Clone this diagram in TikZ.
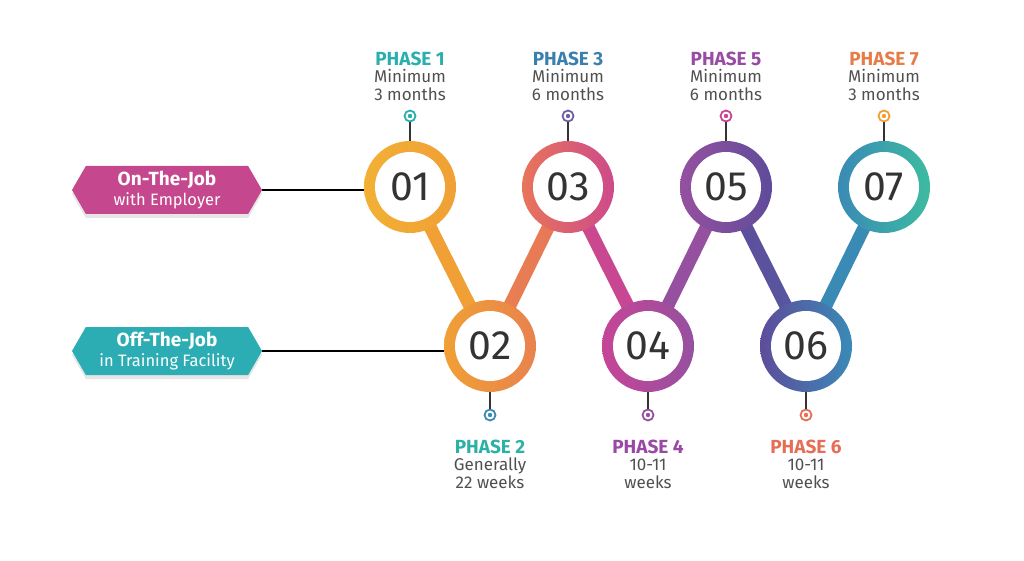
\documentclass[tikz,border=0pt]{standalone}
\usepackage{fontspec}
\setmainfont{Fira Sans}
\usetikzlibrary{positioning,calc,backgrounds,shapes.symbols,shadows}

\definecolor{gold}{HTML}{F2B035}
\definecolor{amber}{HTML}{F0A035}
\definecolor{tangerine}{HTML}{E8824E}
\definecolor{coral}{HTML}{E8755A}
\definecolor{rose}{HTML}{CD4A8B}
\definecolor{fuchsia}{HTML}{C64597}
\definecolor{plum}{HTML}{9650A0}
\definecolor{indigo}{HTML}{5E4C9A}
\definecolor{ocean}{HTML}{3A8AB6}
\definecolor{seagreen}{HTML}{3DBBA0}
\definecolor{jobpink}{HTML}{C5488F}
\definecolor{jobteal}{HTML}{2BADB3}
\definecolor{numgray}{HTML}{333333}
\definecolor{txtgray}{HTML}{505050}
\definecolor{head1}{HTML}{2AAFAE}
\definecolor{head2}{HTML}{2DB0A5}
\definecolor{head3}{HTML}{3B7FAE}
\definecolor{head4}{HTML}{9A47A6}
\definecolor{head5}{HTML}{974BA3}
\definecolor{head6}{HTML}{E66E57}
\definecolor{head7}{HTML}{E57D48}

% band between two rings, shaded left to right
\newcommand\band[4]{\shade[left color=#3,right color=#4]
  ($(#1)!6.5pt!90:(#2)$) -- ($(#2)!6.5pt!-90:(#1)$) --
  ($(#2)!6.5pt!90:(#1)$) -- ($(#1)!6.5pt!-90:(#2)$) -- cycle;}

\begin{document}
\begin{tikzpicture}[x=1pt,y=-1pt,
  ring/.style={circle,minimum size=92pt,inner sep=0pt},
  hole/.style={circle,fill=white,minimum size=70pt,inner sep=0pt,text=numgray,
    font=\fontsize{41}{41}\selectfont},
  pinball/.style={circle,draw=#1,fill=white,line width=1.8pt,minimum size=11pt,
    inner sep=0pt,path picture={\fill[#1] (path picture bounding box.center) circle (2.2pt);}},
  stem/.style={line width=2pt,draw=numgray},
  info/.style={align=center,inner sep=0pt,text=txtgray,font=\fontsize{17}{17.5}\selectfont},
  track/.style={signal,signal to=west and east,signal pointer angle=120,
    minimum width=190pt,minimum height=48pt,inner sep=0pt,text=white,align=center,
    font=\fontsize{16.5}{19.5}\selectfont,
    drop shadow={opacity=0.2,shadow xshift=0pt,shadow yshift=-4pt}}]
\useasboundingbox (0,0) rectangle (1024,561);

% rings
\node[ring,left color=gold,right color=amber] (c1) at (410,187) {};
\node[ring,left color=amber,right color=tangerine] (c2) at (490,346) {};
\node[ring,left color=coral,right color=rose] (c3) at (568,187) {};
\node[ring,left color=fuchsia,right color=plum] (c4) at (648,346) {};
\node[ring,left color=plum,right color=indigo] (c5) at (726,187) {};
\node[ring,left color=indigo,right color=ocean] (c6) at (806,346) {};
\node[ring,left color=ocean,right color=seagreen] (c7) at (884,187) {};
\node[hole] (n1) at (c1) {01};
\node[hole] (n2) at (c2) {02};
\node[hole] (n3) at (c3) {03};
\node[hole] (n4) at (c4) {04};
\node[hole] (n5) at (c5) {05};
\node[hole] (n6) at (c6) {06};
\node[hole] (n7) at (c7) {07};

\begin{scope}[on background layer]
\band{c1}{c2}{amber}{amber}
\band{c2}{c3}{tangerine}{coral}
\band{c3}{c4}{rose}{fuchsia}
\band{c4}{c5}{plum}{plum}
\band{c5}{c6}{indigo}{indigo!80!ocean}
\band{c6}{c7}{ocean}{ocean}
\end{scope}

% pins
\node[pinball=head1] (p1) at (410,116) {};
\node[pinball=indigo!90!white] (p3) at (568,116) {};
\node[pinball=fuchsia] (p5) at (726,116) {};
\node[pinball=amber] (p7) at (884,116) {};
\node[pinball=ocean] (p2) at (490,415) {};
\node[pinball=plum] (p4) at (648,415) {};
\node[pinball=head6] (p6) at (806,415) {};
\foreach \i in {1,...,7}{\draw[stem] (p\i) -- (c\i);}

% phase texts
\node[info,above=9pt of p1] (t1) {{\color{head1}\fontsize{19}{19}\selectfont\bfseries PHASE 1}\\Minimum\\3 months};
\node[info,above=9pt of p3] (t3) {{\color{head3}\fontsize{19}{19}\selectfont\bfseries PHASE 3}\\Minimum\\6 months};
\node[info,above=9pt of p5] (t5) {{\color{head5}\fontsize{19}{19}\selectfont\bfseries PHASE 5}\\Minimum\\6 months};
\node[info,above=9pt of p7] (t7) {{\color{head7}\fontsize{19}{19}\selectfont\bfseries PHASE 7}\\Minimum\\3 months};
\node[info,below=18pt of p2] (t2) {{\color{head2}\fontsize{19}{19}\selectfont\bfseries PHASE 2}\\Generally\\22 weeks};
\node[info,below=18pt of p4] (t4) {{\color{head4}\fontsize{19}{19}\selectfont\bfseries PHASE 4}\\10-11\\weeks};
\node[info,below=18pt of p6] (t6) {{\color{head6}\fontsize{19}{19}\selectfont\bfseries PHASE 6}\\10-11\\weeks};

% job tracks
\node[track,fill=jobpink] (job) at (167,190) {{\fontsize{19}{19}\selectfont\bfseries On-The-Job}\\with Employer};
\node[track,fill=jobteal] (off) at (167,351) {{\fontsize{19}{19}\selectfont\bfseries Off-The-Job}\\in Training Facility};
\draw[line width=2.5pt,black] (job.east) -- (job.east -| c1.west);
\draw[line width=2.5pt,black] (off.east) -- (off.east -| c2.west);
\end{tikzpicture}
\end{document}
